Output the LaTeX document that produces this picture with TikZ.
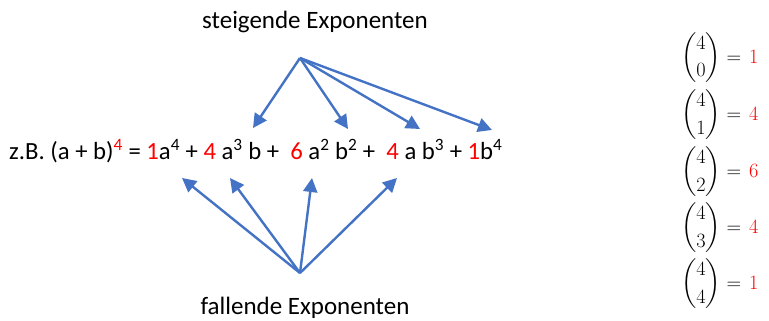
\documentclass[tikz,border=0pt]{standalone}
\usepackage{fix-cm}
\usepackage{amsmath}
\usepackage[no-math]{fontspec}
\setmainfont{Carlito}
\usetikzlibrary{arrows.meta}
\definecolor{arrowblue}{RGB}{68,114,196}
\definecolor{coefred}{RGB}{255,0,0}
\newcommand{\rc}[1]{\textcolor{coefred}{#1}}
\tikzset{
  lbl/.style={inner sep=0pt, font=\fontsize{25}{30}\selectfont},
  eqtext/.style={inner sep=0pt, font=\fontsize{24.7}{29}\selectfont},
  binomnode/.style={inner sep=0pt, anchor=west, font=\fontsize{20.3}{24}\selectfont},
  blarrow/.style={draw=arrowblue, line width=2.4pt, -{Triangle[length=14pt,width=14pt]}}
}
\begin{document}
\begin{tikzpicture}[x=1pt,y=-1pt]
\useasboundingbox (0,0) rectangle (769,321);
\node[lbl] (steig) at (315,22) {steigende Exponenten};
\node[lbl] (fall) at (305,308) {fallende Exponenten};
\node[eqtext, anchor=base west] (eq) at (9,159) {z.B. (a + b)\textsuperscript{\rc{4}} = \rc{1}a\textsuperscript{4} + \rc{4} a\textsuperscript{3} b +\ \ \rc{6} a\textsuperscript{2} b\textsuperscript{2} +\ \ \rc{4} a b\textsuperscript{3} + \rc{1}b\textsuperscript{4}};
\coordinate (top) at (300,58);
\coordinate (bot) at (300,273);
\coordinate (t1) at (253,128);
\coordinate (t2) at (348,129);
\coordinate (t3) at (420,129);
\coordinate (t4) at (492,130);
\coordinate (b1) at (182,178);
\coordinate (b2) at (230,178);
\coordinate (b3) at (312,178);
\coordinate (b4) at (397,178);
\foreach \t in {t1,t2,t3,t4} \draw[blarrow] (top) -- (\t);
\foreach \b in {b1,b2,b3,b4} \draw[blarrow] (bot) -- (\b);
\node[binomnode] (c0) at (681,58) {$\displaystyle\binom{4}{0} = \mkern2mu\rc{1}$};
\node[binomnode] (c1) at (681,115) {$\displaystyle\binom{4}{1} = \mkern2mu\rc{4}$};
\node[binomnode] (c2) at (681,172) {$\displaystyle\binom{4}{2} = \mkern2mu\rc{6}$};
\node[binomnode] (c3) at (681,228) {$\displaystyle\binom{4}{3} = \mkern2mu\rc{4}$};
\node[binomnode] (c4) at (681,284) {$\displaystyle\binom{4}{4} = \mkern2mu\rc{1}$};
\end{tikzpicture}
\end{document}
